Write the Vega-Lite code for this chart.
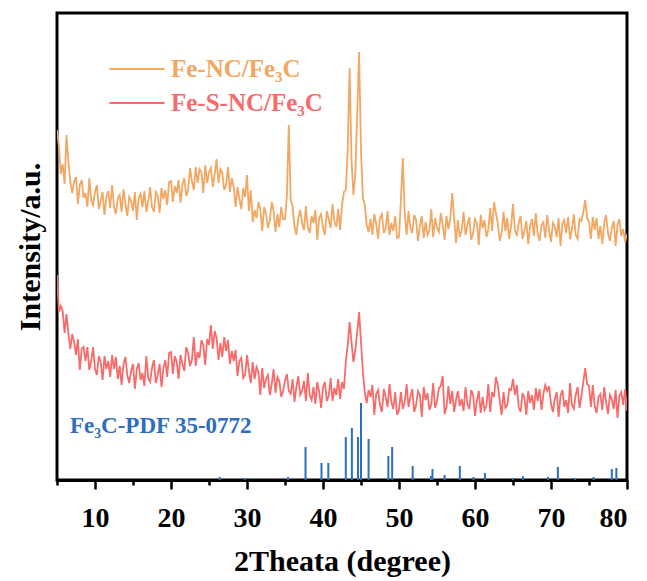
{
"$schema": "https://vega.github.io/schema/vega-lite/v6.json",
"width": 570, "height": 467,
"autosize": {"type": "none"},
"padding": {"left": 57, "top": 13, "right": 20, "bottom": 101},
"background": "white",
"config": {"view": {"stroke": "black", "strokeWidth": 3}, "font": "Liberation Serif"},
"datasets": {
"xrd": [
{"t":5,"o":350,"r":205},{"t":5.25,"o":334,"r":168},{"t":5.5,"o":306,"r":174},{"t":5.75,"o":316,"r":169},
{"t":6,"o":296,"r":147},{"t":6.25,"o":345,"r":166},{"t":6.5,"o":319,"r":147},{"t":6.75,"o":298,"r":131},
{"t":7,"o":287,"r":146},{"t":7.25,"o":298,"r":138},{"t":7.5,"o":303,"r":125},{"t":7.75,"o":276,"r":141},
{"t":8,"o":295,"r":110},{"t":8.25,"o":300,"r":131},{"t":8.5,"o":282,"r":133},{"t":8.75,"o":287,"r":119},
{"t":9,"o":273,"r":133},{"t":9.25,"o":302,"r":110},{"t":9.5,"o":280,"r":119},{"t":9.75,"o":275,"r":133},
{"t":10,"o":288,"r":111},{"t":10.25,"o":295,"r":105},{"t":10.5,"o":271,"r":124},{"t":10.75,"o":279,"r":118},
{"t":11,"o":288,"r":100},{"t":11.25,"o":265,"r":124},{"t":11.5,"o":283,"r":111},{"t":11.75,"o":289,"r":119},
{"t":12,"o":272,"r":103},{"t":12.25,"o":295,"r":125},{"t":12.5,"o":273,"r":111},{"t":12.75,"o":266,"r":123},
{"t":13,"o":282,"r":101},{"t":13.25,"o":285,"r":114},{"t":13.5,"o":268,"r":95},{"t":13.75,"o":291,"r":116},
{"t":14,"o":276,"r":123},{"t":14.25,"o":264,"r":105},{"t":14.5,"o":283,"r":97},{"t":14.75,"o":279,"r":109},
{"t":15,"o":269,"r":116},{"t":15.25,"o":288,"r":91},{"t":15.5,"o":260,"r":111},{"t":15.75,"o":282,"r":117},
{"t":16,"o":286,"r":100},{"t":16.25,"o":273,"r":107},{"t":16.5,"o":289,"r":94},{"t":16.75,"o":268,"r":124},
{"t":17,"o":278,"r":102},{"t":17.25,"o":293,"r":98},{"t":17.5,"o":273,"r":112},{"t":17.75,"o":268,"r":120},
{"t":18,"o":288,"r":97},{"t":18.25,"o":284,"r":105},{"t":18.5,"o":267,"r":116},{"t":18.75,"o":292,"r":93},
{"t":19,"o":281,"r":112},{"t":19.25,"o":290,"r":120},{"t":19.5,"o":275,"r":103},{"t":19.75,"o":298,"r":127},
{"t":20,"o":299,"r":128},{"t":20.25,"o":278,"r":106},{"t":20.5,"o":294,"r":124},{"t":20.75,"o":287,"r":118},
{"t":21,"o":300,"r":101},{"t":21.25,"o":277,"r":125},{"t":21.5,"o":295,"r":116},{"t":21.75,"o":302,"r":109},
{"t":22,"o":284,"r":133},{"t":22.25,"o":290,"r":127},{"t":22.5,"o":312,"r":114},{"t":22.75,"o":299,"r":120},
{"t":23,"o":290,"r":143},{"t":23.25,"o":313,"r":114},{"t":23.5,"o":297,"r":128},{"t":23.75,"o":311,"r":122},
{"t":24,"o":308,"r":140},{"t":24.25,"o":287,"r":135},{"t":24.5,"o":315,"r":115},{"t":24.75,"o":297,"r":141},
{"t":25,"o":308,"r":135},{"t":25.25,"o":312,"r":155},{"t":25.5,"o":293,"r":131},{"t":25.75,"o":306,"r":149},
{"t":26,"o":321,"r":142},{"t":26.25,"o":297,"r":120},{"t":26.5,"o":311,"r":137},{"t":26.75,"o":307,"r":123},
{"t":27,"o":290,"r":143},{"t":27.25,"o":295,"r":129},{"t":27.5,"o":313,"r":140},{"t":27.75,"o":288,"r":116},
{"t":28,"o":302,"r":129},{"t":28.25,"o":293,"r":119},{"t":28.5,"o":273,"r":130},{"t":28.75,"o":293,"r":104},
{"t":29,"o":281,"r":119},{"t":29.25,"o":271,"r":122},{"t":29.5,"o":292,"r":102},{"t":29.75,"o":283,"r":105},
{"t":30,"o":305,"r":125},{"t":30.25,"o":269,"r":109},{"t":30.5,"o":290,"r":97},{"t":30.75,"o":258,"r":118},
{"t":31,"o":270,"r":101},{"t":31.25,"o":262,"r":113},{"t":31.5,"o":278,"r":108},{"t":31.75,"o":271,"r":85},
{"t":32,"o":249,"r":112},{"t":32.25,"o":273,"r":92},{"t":32.5,"o":266,"r":101},{"t":32.75,"o":252,"r":105},
{"t":33,"o":260,"r":85},{"t":33.25,"o":278,"r":96},{"t":33.5,"o":269,"r":111},{"t":33.75,"o":248,"r":87},
{"t":34,"o":266,"r":103},{"t":34.25,"o":253,"r":99},{"t":34.5,"o":273,"r":83},{"t":34.75,"o":261,"r":89},
{"t":35,"o":261,"r":99},{"t":35.25,"o":285,"r":106},{"t":35.5,"o":355,"r":89},{"t":35.75,"o":280,"r":86},
{"t":36,"o":274,"r":101},{"t":36.25,"o":253,"r":78},{"t":36.5,"o":245,"r":93},{"t":36.75,"o":262,"r":104},
{"t":37,"o":270,"r":85},{"t":37.25,"o":257,"r":89},{"t":37.5,"o":250,"r":99},{"t":37.75,"o":274,"r":79},
{"t":38,"o":253,"r":107},{"t":38.25,"o":247,"r":85},{"t":38.5,"o":264,"r":80},{"t":38.75,"o":257,"r":93},
{"t":39,"o":270,"r":76},{"t":39.25,"o":240,"r":98},{"t":39.5,"o":262,"r":88},{"t":39.75,"o":266,"r":72},
{"t":40,"o":252,"r":93},{"t":40.25,"o":245,"r":98},{"t":40.5,"o":269,"r":79},{"t":40.75,"o":261,"r":84},
{"t":41,"o":252,"r":102},{"t":41.25,"o":276,"r":79},{"t":41.5,"o":259,"r":92},{"t":41.75,"o":253,"r":85},
{"t":42,"o":271,"r":101},{"t":42.25,"o":250,"r":81},{"t":42.5,"o":275,"r":98},{"t":42.75,"o":288,"r":91},
{"t":43,"o":290,"r":118},{"t":43.25,"o":330,"r":135},{"t":43.5,"o":412,"r":158},{"t":43.75,"o":320,"r":138},
{"t":44,"o":285,"r":118},{"t":44.25,"o":305,"r":130},{"t":44.5,"o":365,"r":148},{"t":44.75,"o":428,"r":168},
{"t":45,"o":330,"r":138},{"t":45.25,"o":282,"r":108},{"t":45.5,"o":275,"r":87},{"t":45.75,"o":255,"r":77},
{"t":46,"o":248,"r":90},{"t":46.25,"o":261,"r":83},{"t":46.5,"o":245,"r":95},{"t":46.75,"o":266,"r":65},
{"t":47,"o":256,"r":86},{"t":47.25,"o":241,"r":90},{"t":47.5,"o":262,"r":75},{"t":47.75,"o":266,"r":68},
{"t":48,"o":247,"r":91},{"t":48.25,"o":252,"r":83},{"t":48.5,"o":269,"r":73},{"t":48.75,"o":245,"r":96},
{"t":49,"o":257,"r":78},{"t":49.25,"o":249,"r":71},{"t":49.5,"o":264,"r":88},{"t":49.75,"o":242,"r":65},
{"t":50,"o":243,"r":70},{"t":50.25,"o":280,"r":88},{"t":50.5,"o":322,"r":71},{"t":50.75,"o":268,"r":78},
{"t":51,"o":245,"r":96},{"t":51.25,"o":269,"r":73},{"t":51.5,"o":252,"r":83},{"t":51.75,"o":247,"r":91},
{"t":52,"o":265,"r":68},{"t":52.25,"o":260,"r":75},{"t":52.5,"o":239,"r":89},{"t":52.75,"o":254,"r":85},
{"t":53,"o":264,"r":63},{"t":53.25,"o":242,"r":93},{"t":53.5,"o":258,"r":80},{"t":53.75,"o":245,"r":87},
{"t":54,"o":249,"r":70},{"t":54.25,"o":271,"r":76},{"t":54.5,"o":243,"r":97},{"t":54.75,"o":262,"r":72},
{"t":55,"o":252,"r":79},{"t":55.25,"o":248,"r":92},{"t":55.5,"o":267,"r":94},{"t":55.75,"o":255,"r":104},
{"t":56,"o":240,"r":66},{"t":56.25,"o":264,"r":73},{"t":56.5,"o":251,"r":94},{"t":56.75,"o":261,"r":76},
{"t":57,"o":287,"r":89},{"t":57.25,"o":263,"r":68},{"t":57.5,"o":237,"r":80},{"t":57.75,"o":260,"r":89},
{"t":58,"o":243,"r":74},{"t":58.25,"o":250,"r":81},{"t":58.5,"o":268,"r":69},{"t":58.75,"o":245,"r":93},
{"t":59,"o":255,"r":76},{"t":59.25,"o":263,"r":71},{"t":59.5,"o":240,"r":90},{"t":59.75,"o":247,"r":85},
{"t":60,"o":261,"r":64},{"t":60.25,"o":257,"r":79},{"t":60.5,"o":235,"r":89},{"t":60.75,"o":265,"r":67},
{"t":61,"o":252,"r":83},{"t":61.25,"o":260,"r":70},{"t":61.5,"o":243,"r":74},{"t":61.75,"o":250,"r":96},
{"t":62,"o":272,"r":68},{"t":62.25,"o":249,"r":88},{"t":62.5,"o":278,"r":83},{"t":62.75,"o":267,"r":103},
{"t":63,"o":257,"r":95},{"t":63.25,"o":239,"r":80},{"t":63.5,"o":247,"r":65},{"t":63.75,"o":268,"r":88},
{"t":64,"o":249,"r":72},{"t":64.25,"o":262,"r":75},{"t":64.5,"o":241,"r":91},{"t":64.75,"o":254,"r":90},
{"t":65,"o":276,"r":101},{"t":65.25,"o":250,"r":85},{"t":65.5,"o":244,"r":95},{"t":65.75,"o":257,"r":73},
{"t":66,"o":264,"r":68},{"t":66.25,"o":241,"r":87},{"t":66.5,"o":249,"r":82},{"t":66.75,"o":259,"r":65},
{"t":67,"o":236,"r":89},{"t":67.25,"o":254,"r":77},{"t":67.5,"o":261,"r":85},{"t":67.75,"o":244,"r":70},
{"t":68,"o":267,"r":92},{"t":68.25,"o":246,"r":79},{"t":68.5,"o":239,"r":91},{"t":68.75,"o":255,"r":70},
{"t":69,"o":258,"r":86},{"t":69.25,"o":242,"r":95},{"t":69.5,"o":265,"r":89},{"t":69.75,"o":250,"r":94},
{"t":70,"o":238,"r":76},{"t":70.25,"o":257,"r":68},{"t":70.5,"o":253,"r":81},{"t":70.75,"o":243,"r":88},
{"t":71,"o":262,"r":63},{"t":71.25,"o":234,"r":84},{"t":71.5,"o":256,"r":90},{"t":71.75,"o":260,"r":73},
{"t":72,"o":247,"r":80},{"t":72.25,"o":263,"r":67},{"t":72.5,"o":241,"r":97},{"t":72.75,"o":251,"r":75},
{"t":73,"o":266,"r":71},{"t":73.25,"o":245,"r":85},{"t":73.5,"o":241,"r":93},{"t":73.75,"o":261,"r":72},
{"t":74,"o":259,"r":84},{"t":74.25,"o":268,"r":98},{"t":74.5,"o":280,"r":112},{"t":74.75,"o":262,"r":96},
{"t":75,"o":258,"r":94},{"t":75.25,"o":241,"r":73},{"t":75.5,"o":263,"r":95},{"t":75.75,"o":250,"r":74},
{"t":76,"o":262,"r":67},{"t":76.25,"o":241,"r":83},{"t":76.5,"o":254,"r":86},{"t":76.75,"o":236,"r":70},
{"t":77,"o":257,"r":93},{"t":77.25,"o":265,"r":78},{"t":77.5,"o":247,"r":66},{"t":77.75,"o":239,"r":85},
{"t":78,"o":252,"r":81},{"t":78.25,"o":259,"r":71},{"t":78.5,"o":234,"r":90},{"t":78.75,"o":255,"r":62},
{"t":79,"o":261,"r":84},{"t":79.25,"o":244,"r":88},{"t":79.5,"o":251,"r":75},{"t":79.75,"o":238,"r":91},
{"t":80,"o":246,"r":69}
],
"pdf": [
{"t":26.4,"h":3},{"t":29.7,"h":2},{"t":35.4,"h":3},{"t":37.7,"h":33},{"t":39.8,"h":17},{"t":40.7,"h":17},
{"t":43.0,"h":43},{"t":43.8,"h":52},{"t":44.6,"h":43},{"t":45.0,"h":77},{"t":46.0,"h":41},{"t":48.6,"h":24},
{"t":49.1,"h":33},{"t":51.8,"h":14},{"t":54.2,"h":4},{"t":54.4,"h":11},{"t":56.0,"h":5},{"t":58.0,"h":14},
{"t":59.8,"h":3},{"t":61.3,"h":7},{"t":65.0,"h":2},{"t":66.3,"h":4},{"t":69.6,"h":3},{"t":70.9,"h":13},
{"t":73.2,"h":2},{"t":75.6,"h":3},{"t":78.0,"h":11},{"t":78.6,"h":12}
],
"note": [{"t":6.7,"v":47,"label":"Fe₃C-PDF 35-0772"}]
},
"layer": [
{
"data": {"name": "xrd"},
"transform": [{"fold": ["o", "r"], "as": ["s", "v"]}],
"mark": {"type": "line", "strokeWidth": 1.8, "clip": true},
"encoding": {
"x": {"field": "t", "type": "quantitative",
"scale": {"domain": [5, 80], "nice": false, "zero": false},
"axis": {"orient": "bottom", "values": [10,20,30,40,50,60,70,80], "grid": false,
"domain": true, "domainColor": "black", "domainWidth": 3,
"ticks": true, "tickSize": 9, "tickWidth": 2.5, "tickColor": "black",
"labelOverlap": false,
"labelFont": "Liberation Serif", "labelFontWeight": "bold", "labelFontSize": 28, "labelColor": "black", "labelPadding": 15,
"title": "2Theata (degree)", "titleFont": "Liberation Serif", "titleFontWeight": "bold", "titleFontSize": 30, "titleColor": "black", "titlePadding": 14}},
"y": {"field": "v", "type": "quantitative",
"scale": {"domain": [0, 467], "nice": false},
"axis": {"title": "Intensity/a.u.", "labels": false, "ticks": false, "domain": false, "grid": false,
"titleFont": "Liberation Serif", "titleFontWeight": "bold", "titleFontSize": 30, "titleColor": "black", "titlePadding": 12}},
"color": {"field": "s", "type": "nominal",
"scale": {"domain": ["o", "r"], "range": ["#F2A763", "#F76B6B"]},
"legend": {"orient": "none", "legendX": 65, "legendY": 41, "title": null,
"symbolType": "M-2,0H2", "symbolSize": 756, "symbolStrokeWidth": 2,
"labelFont": "Liberation Serif", "labelFontWeight": "bold", "labelFontSize": 25, "labelLimit": 0, "labelOffset": 19,
"labelExpr": "datum.value == 'o' ? 'Fe-NC/Fe₃C' : 'Fe-S-NC/Fe₃C'",
"rowPadding": 6,
"encode": {"labels": {"update": {"fill": {"scale": "color", "field": "value"}}}}}}
}
},
{
"data": {"name": "pdf"},
"mark": {"type": "rule", "strokeWidth": 2, "color": "#2E6EBE"},
"encoding": {
"x": {"field": "t", "type": "quantitative",
"axis": {"orient": "bottom", "values": [5,15,25,35,45,55,65,75], "labels": false, "domain": false, "grid": false,
"ticks": true, "tickSize": 5, "tickWidth": 2.5, "tickColor": "black", "title": null}},
"y": {"field": "h", "type": "quantitative"},
"y2": {"datum": 0}
}
},
{
"data": {"name": "note"},
"mark": {"type": "text", "align": "left", "baseline": "alphabetic", "font": "Liberation Serif", "fontWeight": "bold", "fontSize": 23, "color": "#2E6EBE"},
"encoding": {
"x": {"field": "t", "type": "quantitative", "axis": null},
"y": {"field": "v", "type": "quantitative"},
"text": {"field": "label"}
}
}
],
"resolve": {"axis": {"x": "independent"}}
}
